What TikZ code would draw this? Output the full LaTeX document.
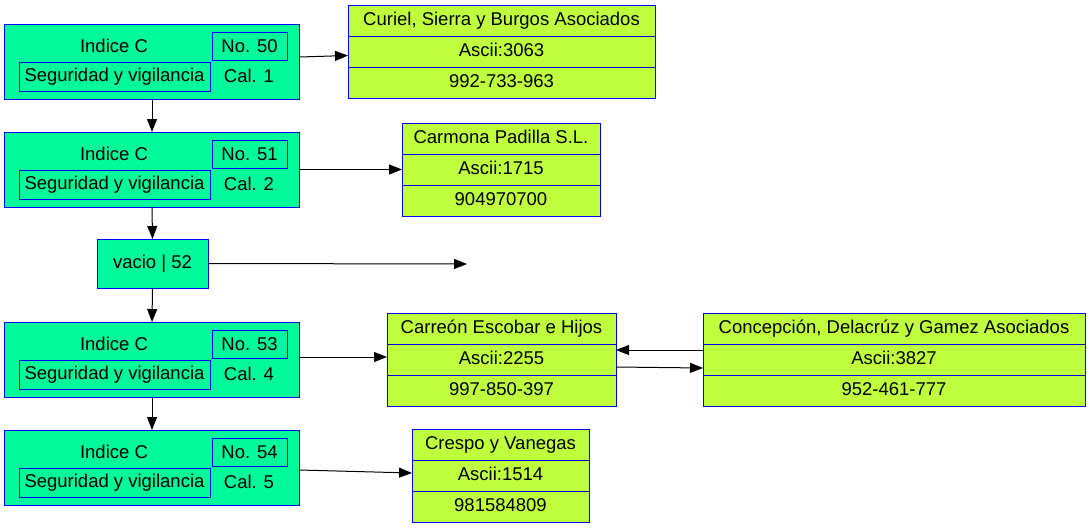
\documentclass[tikz,border=0pt]{standalone}
\usepackage{fontspec}
\setmainfont{Liberation Sans}
\usetikzlibrary{arrows.meta}
\definecolor{gfill}{RGB}{0,250,154}
\definecolor{rfill}{RGB}{192,255,62}
\definecolor{bblue}{RGB}{0,0,255}
\tikzset{
  box/.style={draw=bblue, line width=1pt, inner sep=0pt, outer sep=0pt},
  outer/.style={box, fill=gfill, minimum width=295pt, minimum height=75pt},
  inbox/.style={box, font=\fontsize{18.5}{22}\selectfont},
  txt/.style={inner sep=0pt, font=\fontsize{18.5}{22}\selectfont},
  rowbox/.style={box, fill=rfill, minimum height=31pt, text height=13.5pt, text depth=4pt, font=\fontsize{18.5}{22}\selectfont},
  arr/.style={draw=black, line width=1pt, -{Triangle[length=13pt,width=10pt]}},
}
\newcommand{\idxnode}[4]{% name, top, No, Cal
  \node[outer] (#1) at (152,#2+37.5) {};
  \node[inbox, minimum width=75pt, minimum height=28pt] (#1-no) at (249.5,#2+22) {No. #3};
  \node[inbox, minimum width=191pt, minimum height=29pt] (#1-seg) at (114.5,#2+52.5) {Seguridad y vigilancia};
  \node[txt] (#1-idx) at (114,#2+22) {Indice C};
  \node[txt] (#1-cal) at (249,#2+52) {Cal. #4};
}
\newcommand{\recnode}[7]{% name, cx, top, width, t1, t2, t3
  \node[rowbox, minimum width=#4pt] (#1-a) at (#2,#3+15.5) {#5};
  \node[rowbox, minimum width=#4pt] (#1-b) at (#2,#3+46.5) {#6};
  \node[rowbox, minimum width=#4pt] (#1-c) at (#2,#3+77.5) {#7};
}
\begin{document}
\begin{tikzpicture}[x=1pt,y=-1pt]
\useasboundingbox (0,0) rectangle (1091,528);
\idxnode{n1}{24}{50}{1}
\idxnode{n2}{132}{51}{2}
\node[box, fill=gfill, minimum width=111pt, minimum height=49pt, font=\fontsize{18.5}{22}\selectfont] (n3) at (152.5,263.5) {vacio | 52};
\idxnode{n4}{322}{53}{4}
\idxnode{n5}{430}{54}{5}

\recnode{r1}{501.5}{5}{307}{Curiel, Sierra y Burgos Asociados}{Ascii:3063}{992-733-963}
\recnode{r2}{501}{123}{198}{Carmona Padilla S.L.}{Ascii:1715}{904970700}
\recnode{r4}{501.5}{313}{229}{Carreón Escobar e Hijos}{Ascii:2255}{997-850-397}
\recnode{r6}{894}{313}{382}{Concepción, Delacrúz y Gamez Asociados}{Ascii:3827}{952-461-777}
\recnode{r5}{500.5}{429}{177}{Crespo y Vanegas}{Ascii:1514}{981584809}

\coordinate (free) at (467,264);

\draw[arr] (n1.south) -- (n2.north);
\draw[arr] (n2.south) -- (n3.north);
\draw[arr] (n3.south) -- (n4.north);
\draw[arr] (n4.south) -- (n5.north);

\draw[arr] ([yshift=4.5pt]n1.east) -- ([yshift=-4pt]r1-b.west);
\draw[arr] (n2.east) -- (r2-b.west);
\draw[arr] (n3.east) -- (free);
\draw[arr] ([yshift=2.5pt]n4.east) -- ([yshift=2.5pt]r4-b.west);
\draw[arr] ([yshift=-2.5pt]n5.east) -- ([yshift=2.5pt]r5-b.west);
\draw[arr] ([yshift=9.5pt]r6-b.west) -- ([yshift=9.5pt]r4-b.east);
\draw[arr] ([yshift=-7.5pt]r4-b.east) -- ([yshift=-8.5pt]r6-b.west);
\end{tikzpicture}
\end{document}
